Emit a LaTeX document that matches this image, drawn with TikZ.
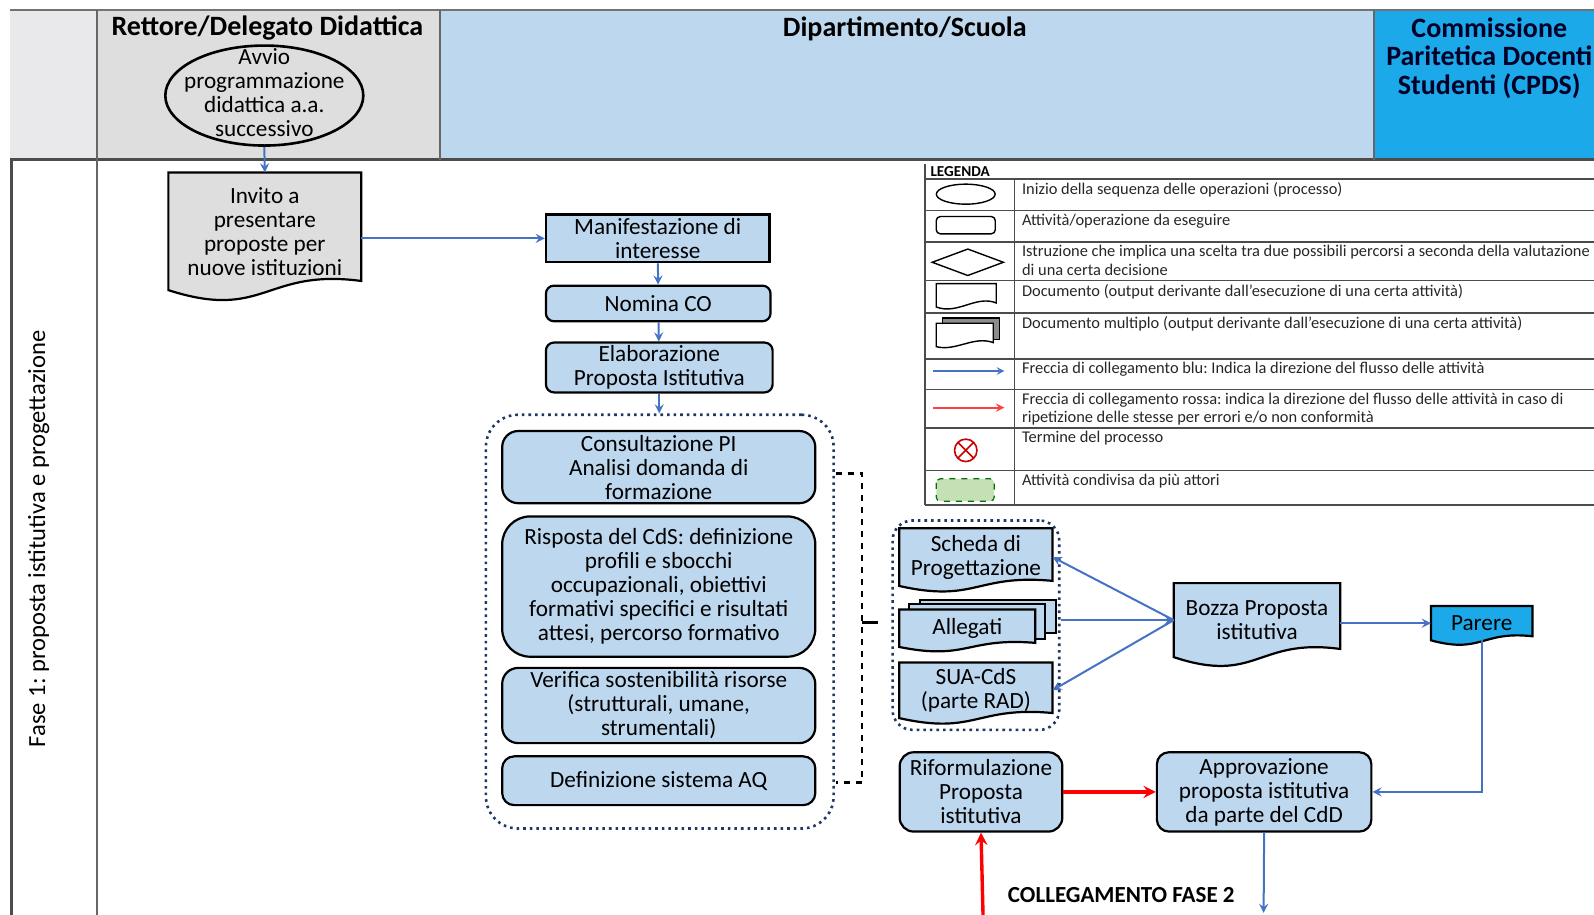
\documentclass[tikz,border=0pt]{standalone}
\usepackage{fontspec}
\setmainfont{Carlito}
\usepackage{xcolor}
\usepackage{tikz}
\usetikzlibrary{calc,shapes.geometric,backgrounds}
\frenchspacing

\definecolor{grigio}{HTML}{DEDEDE}
\definecolor{grigiochiaro}{HTML}{E9E9EC}
\definecolor{azzurro}{HTML}{BDD7EE}
\definecolor{ciano}{HTML}{1CA9EA}
\definecolor{blufreccia}{HTML}{4472C4}
\definecolor{blunotte}{HTML}{203864}
\definecolor{verdino}{HTML}{C5E0B4}

% contorno del documento (fondo ondulato) dietro al nodo #1
\newcommand{\docshape}[3]{%
\begin{scope}[on background layer]
\filldraw[fill=#2,draw=black,line width=1.1pt] (#1.north west) -- (#1.north east)
  -- ($(#1.south east)+(0,-#3)$) .. controls ($(#1.south)+(0,-2.4*#3)$) and ($(#1.south)+(0,3.4*#3)$) .. (#1.south west) -- cycle;
\end{scope}}

\begin{document}
\begin{tikzpicture}[x=0.5083pt,y=-0.5083pt,>=stealth,
  taglia/.style 2 args={minimum width=#1*0.5083pt,minimum height=#2*0.5083pt},
  fs/.style={font=\fontsize{11.6}{12}\selectfont},
  box/.style={draw,line width=1.1pt,fill=azzurro,inner sep=0pt,align=center,fs},
  txt/.style={inner sep=0pt,align=center,fs},
  gruppo/.style={draw=blunotte,dotted,line width=1.3pt,inner sep=0pt},
  freccia/.style={->,blufreccia,line width=1pt},
  rossa/.style={->,red,line width=1.7pt},
  intest/.style={font=\bfseries\fontsize{14}{14.2}\selectfont,align=center,inner sep=0pt},
  legtxt/.style={anchor=north west,inner sep=0pt,align=left,font=\fontsize{8.2}{9.2}\selectfont,text=black!85}]
\useasboundingbox (0,0) rectangle (1568,900);
\clip (0,0) rectangle (1568,900);

% intestazione
\fill[grigiochiaro] (10,10) rectangle (95,157);
\fill[grigio] (95,10) rectangle (433,157);
\fill[azzurro] (433,10) rectangle (1352,157);
\fill[ciano] (1352,10) rectangle (1580,157);
\draw[black!55,line width=1pt] (10,10) -- (1580,10);
\draw[black!70,line width=1.2pt] (10,157) -- (1580,157);
\draw[black!60,line width=1pt] (95,10) -- (95,900) (433,10) -- (433,157) (1352,10) -- (1352,157);
\draw[black!70,line width=1.4pt] (11,157) -- (11,900);
\node[intest] (rettore) at (263,28) {Rettore/Delegato Didattica};
\node[intest] (dip) at (890,28) {Dipartimento/Scuola};
\node[intest,anchor=north,text=black!85!blue] (cpds) at (1465,17) {Commissione\\Paritetica Docenti\\Studenti (CPDS)};
\node[font=\fontsize{12.3}{13}\selectfont,rotate=90] (fase) at (38,530) {Fase 1: proposta istitutiva e progettazione};

% nodi
\node[ellipse,draw,line width=1.3pt,fill=grigio,minimum width=99pt,minimum height=50pt] (avvio) at (260,94) {};
\node[txt] (avviotxt) at (260,91) {Avvio\\programmazione\\didattica a.a.\\successivo};
\node[txt,taglia={189}{115}] (invito) at (260.5,227.5) {Invito a\\presentare\\proposte per\\nuove istituzioni};
\docshape{invito}{grigio}{9}
\node[box,taglia={220}{47}] (mani) at (647,234.5) {Manifestazione di\\interesse};
\node[box,rounded corners=4pt,taglia={221}{35}] (nomina) at (647.5,298.5) {Nomina CO};
\node[box,rounded corners=4pt,taglia={223}{49}] (elab) at (648.5,361.5) {Elaborazione\\Proposta Istitutiva};

\node[gruppo,rounded corners=16pt,taglia={342}{407}] (gruppo1) at (649,611.5) {};
\node[box,rounded corners=8pt,taglia={308}{71}] (consult) at (648,459.5) {Consultazione PI\\Analisi domanda di\\formazione};
\node[box,rounded corners=14pt,taglia={308}{138}] (risposta) at (648,577) {Risposta del CdS: definizione\\profili e sbocchi\\occupazionali, obiettivi\\formativi specifici e risultati\\attesi, percorso formativo};
\node[box,rounded corners=8pt,taglia={308}{74}] (verifica) at (648,694) {Verifica sostenibilità risorse\\(strutturali, umane,\\strumentali)};
\node[box,rounded corners=6pt,taglia={308}{48}] (sistema) at (648,768) {Definizione sistema AQ};
\draw[dashed,line width=1.4pt] (822,466) -- (848,466) -- (848,770) -- (822,770);
\coordinate (graffa) at (864,612);
\draw[line width=1.4pt] (848,612) -- (graffa);

\node[gruppo,rounded corners=10pt,taglia={164}{206}] (gruppo2) at (960,615) {};
\node[txt,taglia={150}{56}] (scheda) at (960,548) {Scheda di\\Progettazione};
\docshape{scheda}{azzurro}{5}
\node[txt,taglia={133}{36}] (allegati) at (951.5,618) {Allegati};
\begin{scope}[on background layer]
\filldraw[fill=azzurro,line width=1pt] ($(allegati.north west)+(20,-9)$) rectangle ($(allegati.south east)+(20,-14)$);
\filldraw[fill=azzurro,line width=1pt] ($(allegati.north west)+(10,-5)$) rectangle ($(allegati.south east)+(10,-8)$);
\end{scope}
\docshape{allegati}{azzurro}{4}
\node[txt,taglia={150}{54}] (sua) at (960,679) {SUA-CdS\\(parte RAD)};
\docshape{sua}{azzurro}{5}

\node[txt,taglia={163}{72}] (bozza) at (1236.5,610) {Bozza Proposta\\istitutiva};
\docshape{bozza}{azzurro}{8}
\node[txt,taglia={99}{33}] (parere) at (1457.5,613) {Parere};
\docshape{parere}{ciano}{4}
\node[box,rounded corners=7pt,taglia={160}{78}] (rifo) at (965,779) {Riformulazione\\Proposta\\istitutiva};
\node[box,rounded corners=6pt,taglia={211}{78}] (appro) at (1243.5,779) {Approvazione\\proposta istitutiva\\da parte del CdD};
\node[font=\bfseries\fontsize{11.5}{12}\selectfont] (colleg) at (1103,880) {COLLEGAMENTO FASE 2};
\coordinate (fase2r) at (967,900);
\coordinate (fase2b) at (1243,898);

% frecce
\draw[freccia] (avvio.south) -- (invito.north);
\draw[freccia] (invito.east |- mani) -- (mani.west);
\draw[freccia] (mani) -- (nomina);
\draw[freccia] (nomina) -- (elab);
\draw[freccia] (elab.south) -- (elab.south |- gruppo1.north);
\draw[freccia] (bozza.west) -- (scheda.east);
\draw[freccia] (gruppo2.east |- bozza.west) -- (bozza.west);
\draw[freccia] (bozza.west) -- (sua.east);
\draw[freccia] (bozza.east |- parere) -- (parere.west);
\draw[freccia] (parere.south) |- (appro.east);
\draw[rossa] (rifo.east) -- (appro.west);
\draw[rossa] (fase2r) -- (rifo.south);
\draw[freccia] (appro.south) -- (fase2b);

% legenda
\node[anchor=south west,inner sep=1pt,font=\bfseries\fontsize{7.6}{8}\selectfont] (legenda) at (913,176) {LEGENDA};
\draw[black!70,line width=0.8pt] (910,161) -- (910,497) (998,176) -- (998,497);
\foreach \y in {176,207,238,276,308,353,383,421,463,497}
  \draw[black!70,line width=0.8pt] (910,\y) -- (1580,\y);
\foreach \y/\testo [count=\i] in {176/{Inizio della sequenza delle operazioni (processo)},
  207/{Attività/operazione  da eseguire},
  238/{Istruzione che implica una scelta tra due possibili percorsi a seconda della valutazione\\di una certa decisione},
  276/{Documento (output derivante dall'esecuzione  di una certa attività)},
  308/{Documento multiplo (output derivante dall'esecuzione  di una certa attività)},
  353/{Freccia di collegamento blu: Indica la direzione del flusso delle attività},
  383/{Freccia di collegamento rossa: indica la direzione del flusso delle attività in caso di\\ripetizione delle stesse per errori e/o non conformità},
  421/{Termine del processo},
  463/{Attività condivisa da più attori}}
  \node[legtxt] (leg\i) at (1005,\y+3) {\testo};
\draw[line width=0.7pt] (950,191) ellipse (14.7pt and 5pt);
\draw[line width=0.7pt,rounded corners=2pt] (921,213) rectangle (979,230);
\draw[line width=0.7pt] (917,258) -- (952,245) -- (987,258) -- (952,271) -- cycle;
\draw[line width=0.7pt] (921,279) -- (980,279) -- (980,298) .. controls (960,290) and (942,310) .. (921,302) -- cycle;
\filldraw[fill=black!45,line width=0.7pt] (927,313) rectangle (983,334);
\filldraw[fill=white,line width=0.7pt] (921,318) -- (977,318) -- (977,337) .. controls (958,330) and (940,346) .. (921,341) -- cycle;
\draw[->,blufreccia,line width=0.7pt] (918,365) -- (988,365);
\draw[->,red!75!white,line width=0.9pt] (918,401) -- (988,401);
\draw[red!80!black,line width=0.8pt] (950,443) circle (5.6pt) (942,435) -- (958,451) (958,435) -- (942,451);
\draw[dashed,green!45!black,fill=verdino,rounded corners=2pt,line width=0.6pt] (921,471) rectangle (978,493);
\end{tikzpicture}
\end{document}
